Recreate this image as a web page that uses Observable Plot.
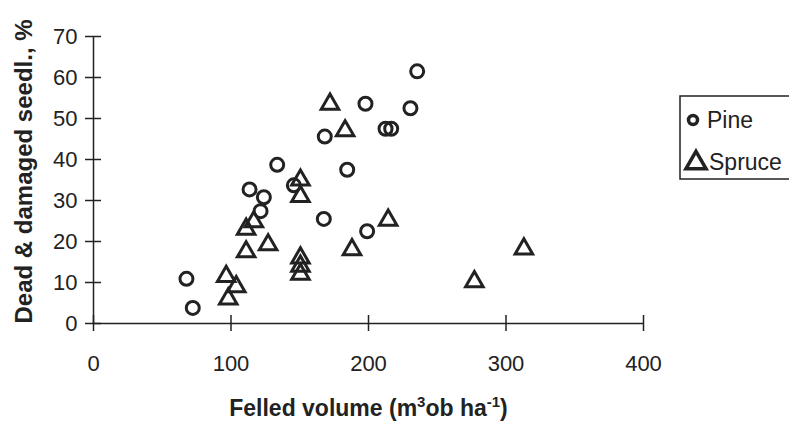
<!DOCTYPE html>
<html><head><meta charset="utf-8">
<script src="https://cdn.jsdelivr.net/npm/d3@7"></script>
<script src="https://cdn.jsdelivr.net/npm/@observablehq/plot@0.6"></script>
<style>body{margin:0;background:#fff}#chart{width:789px;height:427px}</style>
</head><body><div id="chart"></div>
<script>
const seriesNames = ["Pine", "Spruce"];
const pineX = [67.6, 72.2, 113.5, 123.9, 121.5, 133.6, 145.7, 168.2, 167.5, 184.5, 197.8, 199, 212.4, 216.5, 230.5, 235.4];
const pineY = [10.9, 3.8, 32.7, 30.8, 27.4, 38.7, 33.7, 45.6, 25.5, 37.5, 53.6, 22.5, 47.5, 47.5, 52.5, 61.5];
const spruceX = [172, 183, 150.5, 150.5, 116.6, 111, 127, 111, 150.5, 150.5, 150.5, 96.5, 103.8, 98, 188, 214.3, 277, 313];
const spruceY = [53.5, 47, 35, 31, 24.8, 23, 19.2, 17.5, 16, 14, 12, 11.5, 9, 6, 18, 25.2, 10.2, 18.2];
const xTicks = [0, 100, 200, 300, 400];
const yTicks = [0, 10, 20, 30, 40, 50, 60, 70];
const xTitle = "Felled volume (m3ob ha-1)";
const yTitle = "Dead & damaged seedl., %";

const data = [
  ...pineX.map((x, i) => ({series: "Pine", x, y: pineY[i]})),
  ...spruceX.map((x, i) => ({series: "Spruce", x, y: spruceY[i]}))
];
const ink = "#222";

const chart = Plot.plot({
  width: 789, height: 427,
  marginLeft: 93, marginRight: 146, marginTop: 36, marginBottom: 104,
  style: {fontFamily: "'Liberation Sans', Arial, sans-serif", fontSize: "22px", background: "#fff", color: ink},
  x: {domain: [0, 400]},
  y: {domain: [0, 70]},
  symbol: {domain: seriesNames, range: ["circle", "triangle"]},
  marks: [
    Plot.axisX({ticks: xTicks, tickSize: 16, dy: -8, tickPadding: 24, label: null, strokeWidth: 1.5}),
    Plot.axisY({ticks: yTicks, tickSize: 16, dx: 8, tickPadding: 8, label: null, strokeWidth: 1.5}),
    Plot.ruleY([0], {stroke: ink, strokeWidth: 1.5}),
    Plot.ruleX([0], {stroke: ink, strokeWidth: 1.5}),
    Plot.dot(data, {x: "x", y: "y", symbol: "series", r: 6.5, stroke: ink, strokeWidth: 3, fill: "none"}),
    Plot.text([yTitle], {frameAnchor: "left", textAnchor: "middle", lineAnchor: "middle", dx: -69, dy: -8.5, rotate: -90, fontSize: 24, fontWeight: "bold", fill: ink}),
    Plot.text([xTitle], {frameAnchor: "bottom", textAnchor: "middle", dy: 92, fontSize: 23, fontWeight: "bold", fill: ink, className: "xtitle"})
  ]
});
document.getElementById("chart").append(chart);

// superscripts in x title
const svg = d3.select(chart);
const t = svg.select(".xtitle text");
t.text(null);
const parts = [["Felled volume (m", false], ["3", true], ["ob ha", false], ["-1", true], [")", false]];
parts.forEach(([s, sup], i) => {
  const ts = t.append("tspan").text(s);
  if (sup) ts.attr("font-size", 15).attr("dy", "-8.5");
  else if (i > 0) ts.attr("dy", "8.5");
});

// legend
const lg = svg.append("g").attr("fill", "none").attr("stroke", ink);
lg.append("rect").attr("x", 680).attr("y", 96).attr("width", 130).attr("height", 83).attr("stroke-width", 1.5);
lg.append("circle").attr("cx", 693).attr("cy", 120).attr("r", 4.5).attr("stroke-width", 3.5);
lg.append("path").attr("transform", "translate(696,163)")
  .attr("d", d3.symbol(d3.symbolTriangle, Math.PI * 7.5 * 7.5)()).attr("stroke-width", 3.5);
const lt = svg.append("g").attr("fill", ink).attr("font-size", 23).attr("text-anchor", "start");
lt.append("text").attr("x", 707).attr("y", 120).attr("dy", "0.35em").text(seriesNames[0]);
lt.append("text").attr("x", 709).attr("y", 162).attr("dy", "0.35em").text(seriesNames[1]);
</script></body></html>
